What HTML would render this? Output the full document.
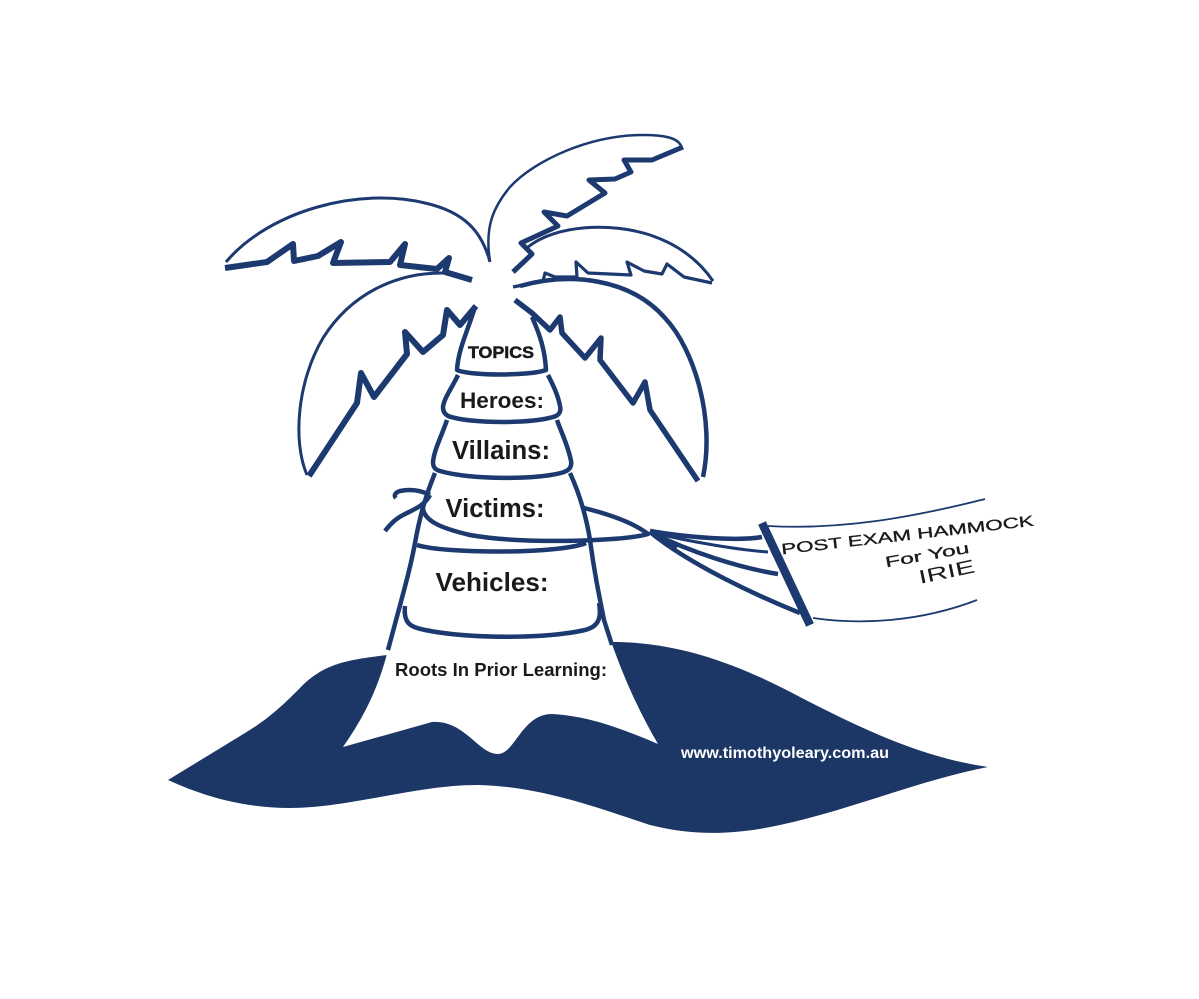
<!DOCTYPE html>
<html><head><meta charset="utf-8"><style>html,body{margin:0;padding:0;background:#fff}svg{display:block}text{font-family:"Liberation Sans",sans-serif;fill:#1a1a1a}</style></head>
<body><svg width="1199" height="999" viewBox="0 0 1199 999" xmlns="http://www.w3.org/2000/svg">
<rect width="1199" height="999" fill="#fff"/>
<path d="M168 780L245 733C270 718 285 703 300 688C325 662 350 660 387 655L613 642C680 642 740 665 800 697C860 728 920 757 988 767C920 780 850 810 780 825C730 836 690 835 650 825C590 805 540 787 480 785C420 784 350 808 290 808C245 808 205 797 168 780Z" fill="#1c3766"/>
<path d="M388 650C378 690 362 720 343 747L432 722C465 720 478 754 498 754C515 754 522 714 552 714C590 716 625 730 658 744C632 700 615 655 604 620Z" fill="#fff"/>
<g fill="none" stroke="#1c3a70" stroke-width="4.5" stroke-linejoin="round" stroke-linecap="butt">
<path d="M475 307C468 330 458 350 457 370C470 376 530 376 546 370C545 350 540 335 532 317"/>
<path d="M458 375C452 388 444 398 443 407C443 412 445 414 448 416C470 424 535 424 556 416C560 414 561 410 560 406C558 395 553 385 548 375"/>
<path d="M447 420C442 435 434 450 433 462C433 468 436 470 440 471C470 480 540 480 564 472C570 470 572 466 571 461C568 445 561 432 557 420"/>
<path d="M435 473C426 495 420 515 415 543C410 570 404 590 388 650"/>
<path d="M570 473C580 495 586 515 590 540C594 570 598 590 604 620L612 645"/>
<path d="M417 545C445 554 560 554 586 543"/>
<path d="M405 606C403 625 412 627 425 630C470 639 545 639 585 630C597 627 602 620 599 603"/>
<path d="M423 503C420 520 440 528 470 535C520 544 620 542 648 534C630 520 600 512 584 508"/>
<path d="M430 495C420 490 410 489 400 491C394 493 394 496 396 498"/>
<path d="M385 531C392 522 397 518 405 514C415 509 425 505 430 495"/>
<path d="M650 531C690 538 740 541 762 537"/>
<path d="M650 532C690 542 740 550 768 552" stroke-width="3"/>
<path d="M650 532C690 552 740 568 778 574"/>
<path d="M650 532C690 565 760 597 800 613"/>
<path d="M650 531L676 549" stroke-width="6"/>
<path d="M762 523L810 625" stroke-width="8.5"/>
<path d="M768 526C840 530 910 518 985 499M813 618C860 625 920 622 977 600" stroke-width="1.8"/>
<path d="M490 262C482 232 465 212 425 203C360 187 270 210 226 262" stroke-width="3"/>
<path d="M225 268L267 262L293 244L294 261L318 256L341 242L333 263L390 262L405 244L400 265L437 269L449 258L445 272L472 280" stroke-width="6"/>
<path d="M490 261C484 225 495 205 510 187C535 160 590 135 643 135C665 135 678 138 681 146" stroke-width="2.5"/>
<path d="M683 147L652 160L624 160L631 172L615 179L589 180L605 193L567 216L544 212L558 226L521 243L532 254L513 272" stroke-width="5"/>
<path d="M528 247C555 225 610 222 650 235C680 245 700 262 713 281" stroke-width="3"/>
<path d="M712 283L684 277L667 264L662 274L644 271L627 262L631 275L588 273L576 262L577 277L555 277L545 273L543 281L513 287" stroke-width="3.2"/>
<path d="M520 286C570 272 630 278 665 318C695 350 715 420 703 477" stroke-width="4.5"/>
<path d="M698 481L650 410L645 382L633 403L600 360L601 338L585 358L562 333L560 317L550 330L532 313L515 300" stroke-width="5.5"/>
<path d="M445 273C395 272 350 295 323 338C298 380 292 440 307 475" stroke-width="3"/>
<path d="M309 476L357 403L361 373L374 397L407 354L405 332L423 352L443 335L447 310L460 325L476 306" stroke-width="6"/>
</g>
<text x="501" y="358" font-size="17" font-weight="bold" text-anchor="middle" stroke="#1a1a1a" stroke-width=".5" textLength="66" lengthAdjust="spacingAndGlyphs">TOPICS</text>
<text x="502" y="408" font-size="22" font-weight="bold" text-anchor="middle" textLength="84" lengthAdjust="spacingAndGlyphs">Heroes:</text>
<text x="501" y="459" font-size="25.5" font-weight="bold" text-anchor="middle" textLength="98" lengthAdjust="spacingAndGlyphs">Villains:</text>
<text x="495" y="517" font-size="25.5" font-weight="bold" text-anchor="middle" textLength="99" lengthAdjust="spacingAndGlyphs">Victims:</text>
<text x="492" y="591" font-size="26" font-weight="bold" text-anchor="middle" textLength="113" lengthAdjust="spacingAndGlyphs">Vehicles:</text>
<text x="501" y="676" font-size="18" font-weight="bold" text-anchor="middle" textLength="212" lengthAdjust="spacingAndGlyphs">Roots In Prior Learning:</text>
<text x="785" y="758" font-size="15.5" font-weight="bold" text-anchor="middle" textLength="208" lengthAdjust="spacingAndGlyphs" style="fill:#fff">www.timothyoleary.com.au</text>
<text transform="rotate(-6.5 908 540)" x="908" y="540" font-size="15" text-anchor="middle" stroke="#1a1a1a" stroke-width=".3" textLength="254" lengthAdjust="spacingAndGlyphs">POST EXAM HAMMOCK</text>
<text transform="rotate(-10 928 560)" x="928" y="560" font-size="15" text-anchor="middle" stroke="#1a1a1a" stroke-width=".3" textLength="85" lengthAdjust="spacingAndGlyphs">For You</text>
<text transform="rotate(-12 948 578)" x="948" y="578" font-size="19" text-anchor="middle" textLength="57" lengthAdjust="spacingAndGlyphs">IRIE</text>
</svg></body></html>
